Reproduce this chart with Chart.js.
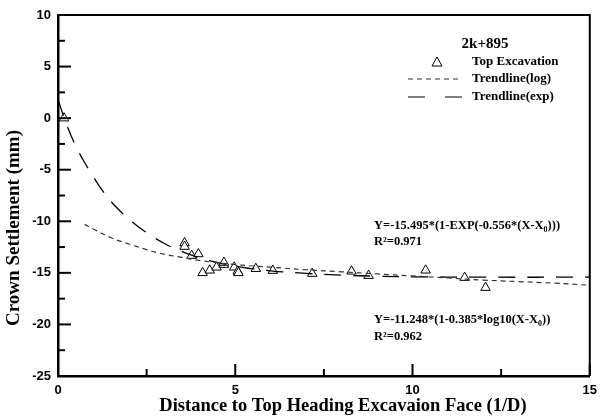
<!DOCTYPE html>
<html>
<head>
<meta charset="utf-8">
<script src="https://cdn.jsdelivr.net/npm/chart.js@4.4.1/dist/chart.umd.min.js"></script>
<style>
  html, body { margin: 0; padding: 0; background: #fff; }
  #wrap { width: 604px; height: 416px; }
</style>
</head>
<body>
<div id="wrap"><canvas id="chart" width="604" height="416"></canvas></div>
<script>
// measured points (distance 1/D, settlement mm)
const obsX = [0.17, 3.57, 3.57, 3.77, 3.96, 4.08, 4.28, 4.47, 4.68, 4.68, 4.97, 5.07, 5.09, 5.58, 6.06, 7.17, 8.28, 8.76, 10.37, 11.47, 12.06];
const obsY = [0.0, -12.1, -12.45, -13.33, -13.17, -15.0, -14.75, -14.46, -14.2, -14.0, -14.46, -14.85, -15.0, -14.6, -14.78, -15.07, -14.85, -15.27, -14.75, -15.46, -16.43];

// trendline (log)
const logX = [0.75, 1, 1.5, 2, 2.5, 3, 3.5, 4, 5, 6, 7, 8, 9, 10, 11, 12, 13, 14, 15];
const logY = [-10.3, -10.75, -11.6, -12.2, -12.75, -13.2, -13.5, -13.8, -14.2, -14.45, -14.7, -14.9, -15.1, -15.3, -15.5, -15.7, -15.85, -16.0, -16.2];

// trendline (exp)
const expX = [0, 0.25, 0.5, 0.75, 1, 1.25, 1.5, 1.75, 2, 2.5, 3, 3.5, 4, 4.5, 5, 6, 7, 8, 9, 10, 12, 15];
const expY = [1.8, -0.7, -2.7, -4.3, -5.7, -7.0, -8.1, -9.0, -9.8, -11.1, -12.15, -12.95, -13.55, -14.0, -14.35, -14.8, -15.05, -15.22, -15.32, -15.38, -15.42, -15.42];

const xTicks = { min: 0, max: 15, step: 2.5 };
const yTicks = { min: -25, max: 10, step: 2.5 };

const toPts = (xs, ys) => xs.map((x, i) => ({ x: x, y: ys[i] }));

const serif = '"Liberation Serif", "Times New Roman", serif';
const sans = '"Liberation Sans", Arial, sans-serif';

// inward tick marks, frame, titles, legend and equations
const decorPlugin = {
  id: 'decor',
  afterDraw(chart) {
    const ctx = chart.ctx;
    const a = chart.chartArea;
    const xs = chart.scales.x;
    const ys = chart.scales.y;
    ctx.save();
    ctx.strokeStyle = '#000';

    // frame top/right
    ctx.lineWidth = 2;
    ctx.beginPath();
    ctx.moveTo(a.left, a.top);
    ctx.lineTo(a.right, a.top);
    ctx.lineTo(a.right, a.bottom);
    ctx.stroke();

    ctx.lineWidth = 2;
    ys.ticks.forEach(t => {
      const py = ys.getPixelForValue(t.value);
      const len = (t.value % 5 === 0) ? 13 : 7;
      ctx.beginPath();
      ctx.moveTo(a.left, py);
      ctx.lineTo(a.left + len, py);
      ctx.stroke();
    });
    xs.ticks.forEach(t => {
      const px = xs.getPixelForValue(t.value);
      const len = (t.value % 5 === 0) ? 12 : 7;
      ctx.beginPath();
      ctx.moveTo(px, a.bottom);
      ctx.lineTo(px, a.bottom - len);
      ctx.stroke();
    });

    // axis titles
    ctx.fillStyle = '#000';
    ctx.textBaseline = 'middle';
    ctx.textAlign = 'center';
    ctx.font = 'bold 18.5px ' + serif;
    ctx.fillText('Distance to Top Heading Excavaion Face (1/D)', 343, 406);
    ctx.save();
    ctx.translate(14, 228);
    ctx.rotate(-Math.PI / 2);
    ctx.font = 'bold 19px ' + serif;
    ctx.fillText('Crown Settlement (mm)', 0, 0);
    ctx.restore();

    // legend
    ctx.font = 'bold 15px ' + serif;
    ctx.fillText('2k+895', 485, 44);
    ctx.textAlign = 'left';
    ctx.font = 'bold 13px ' + serif;
    ctx.fillText('Top Excavation', 472, 62);
    ctx.fillText('Trendline(log)', 472, 79);
    ctx.fillText('Trendline(exp)', 472, 97);

    ctx.lineWidth = 1;
    ctx.beginPath();
    ctx.moveTo(437, 57);
    ctx.lineTo(442, 66);
    ctx.lineTo(432, 66);
    ctx.closePath();
    ctx.stroke();

    ctx.lineWidth = 1.2;
    ctx.strokeStyle = '#333';
    ctx.setLineDash([5, 4]);
    ctx.beginPath();
    ctx.moveTo(408, 79);
    ctx.lineTo(462, 79);
    ctx.stroke();
    ctx.strokeStyle = '#000';
    ctx.setLineDash([17, 20]);
    ctx.beginPath();
    ctx.moveTo(408, 97);
    ctx.lineTo(462, 97);
    ctx.stroke();
    ctx.setLineDash([]);

    // equations
    const eqFont = 'bold 12.5px ' + serif;
    ctx.font = eqFont;
    const eq = (pre, post, x, y) => {
      ctx.fillText(pre, x, y);
      const w = ctx.measureText(pre).width;
      ctx.font = 'bold 8px ' + serif;
      ctx.fillText('0', x + w, y + 4);
      const w0 = ctx.measureText('0').width;
      ctx.font = eqFont;
      ctx.fillText(post, x + w + w0, y);
    };
    eq('Y=-15.495*(1-EXP(-0.556*(X-X', ')))', 374, 226);
    ctx.fillText('R\u00B2=0.971', 374, 242);
    eq('Y=-11.248*(1-0.385*log10(X-X', '))', 374, 320);
    ctx.fillText('R\u00B2=0.962', 374, 337);

    ctx.restore();
  }
};

new Chart(document.getElementById('chart'), {
  type: 'scatter',
  data: {
    datasets: [
      {
        label: 'Trendline(log)',
        data: toPts(logX, logY),
        showLine: true,
        borderColor: '#333',
        borderWidth: 1.2,
        borderDash: [5, 4],
        pointRadius: 0,
        tension: 0.4
      },
      {
        label: 'Trendline(exp)',
        data: toPts(expX, expY),
        showLine: true,
        borderColor: '#000',
        borderWidth: 1.3,
        borderDash: [17, 12],
        pointRadius: 0,
        tension: 0.4
      },
      {
        label: 'Top Excavation',
        data: toPts(obsX, obsY),
        pointStyle: 'triangle',
        pointRadius: 5.5,
        pointBackgroundColor: '#fff',
        pointBorderColor: '#000',
        pointBorderWidth: 1
      }
    ]
  },
  options: {
    responsive: false,
    animation: false,
    devicePixelRatio: 1,
    layout: { padding: { top: 15, right: 5, left: 0, bottom: 0 } },
    plugins: {
      legend: { display: false },
      tooltip: { enabled: false }
    },
    scales: {
      x: {
        type: 'linear',
        min: xTicks.min,
        max: xTicks.max,
        afterFit(scale) { scale.height = 40; },
        grid: { display: false, drawTicks: false },
        border: { display: true, color: '#000', width: 2.5 },
        ticks: {
          stepSize: xTicks.step,
          padding: 7,
          color: '#000',
          font: { family: sans, size: 13, weight: 'bold' },
          maxRotation: 0,
          callback: v => (v % 5 === 0 ? String(v) : '')
        }
      },
      y: {
        type: 'linear',
        min: yTicks.min,
        max: yTicks.max,
        afterFit(scale) { scale.width = 58; },
        grid: { display: false, drawTicks: false },
        border: { display: true, color: '#000', width: 2.5 },
        ticks: {
          stepSize: yTicks.step,
          padding: 7,
          color: '#000',
          font: { family: sans, size: 13, weight: 'bold' },
          callback: v => (v % 5 === 0 ? String(v) : '')
        }
      }
    }
  },
  plugins: [decorPlugin]
});
</script>
</body>
</html>
